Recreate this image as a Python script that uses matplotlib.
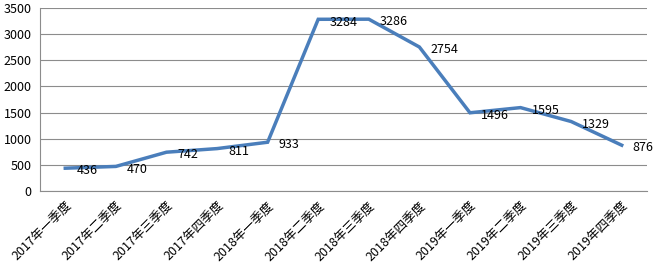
import matplotlib
matplotlib.use('Agg')
import matplotlib.pyplot as plt

plt.rcParams['font.family'] = ['Noto Sans CJK SC', 'DejaVu Sans']

quarters = ['2017年一季度', '2017年二季度', '2017年三季度', '2017年四季度',
            '2018年一季度', '2018年二季度', '2018年三季度', '2018年四季度',
            '2019年一季度', '2019年二季度', '2019年三季度', '2019年四季度']
values = [436, 470, 742, 811, 933, 3284, 3286, 2754, 1496, 1595, 1329, 876]

fig = plt.figure(figsize=(6.54, 2.72), dpi=100)
ax = fig.add_axes([40/654, 1 - 191/272, 607/654, 183/272])

x = list(range(len(values)))
ax.plot(x, values, color='#4A7EBB', linewidth=2.5, solid_joinstyle='miter')
for xi, v in zip(x, values):
    ax.annotate(str(v), (xi, v), xytext=(8, -2), textcoords='offset points',
                ha='left', va='center', fontsize=9, color='black')

ax.set_xlim(-0.5, len(values) - 0.5)
ax.set_ylim(0, 3500)
ax.set_yticks(range(0, 3501, 500))
ax.tick_params(axis='y', labelsize=9, length=0, pad=6)
ax.set_xticks(x)
ax.set_xticklabels(quarters, rotation=45, ha='right', rotation_mode='anchor', fontsize=9)
ax.tick_params(axis='x', length=0, pad=6)
ax.grid(axis='y', color='#8c8c8c', linewidth=0.8)
ax.set_axisbelow(True)
for s in ['top', 'right']:
    ax.spines[s].set_visible(False)
ax.spines['left'].set_color('#8c8c8c')
ax.spines['bottom'].set_color('#8c8c8c')

fig.savefig('out.png', dpi=100)
